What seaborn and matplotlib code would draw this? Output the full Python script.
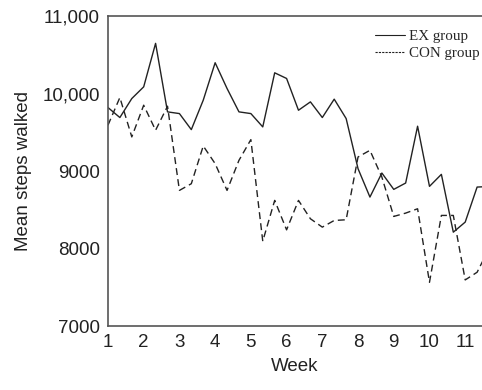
import numpy as np
import pandas as pd
import matplotlib
matplotlib.use("Agg")
import matplotlib.pyplot as plt
from matplotlib.lines import Line2D
import seaborn as sns

sns.set_style("white")
plt.rcParams['font.family'] = ['Liberation Sans', 'DejaVu Sans']

# measurements every third of a week
week = [1.0, 1.333, 1.667, 2.0, 2.333, 2.667, 3.0, 3.333, 3.667, 4.0, 4.333,
        4.667, 5.0, 5.333, 5.667, 6.0, 6.333, 6.667, 7.0, 7.333, 7.667, 8.0,
        8.333, 8.667, 9.0, 9.333, 9.667, 10.0, 10.333, 10.667, 11.0, 11.333,
        11.667]
ex_steps = [9819, 9690, 9935, 10086, 10647, 9763, 9741, 9534, 9914, 10397,
            10065, 9763, 9741, 9569, 10267, 10194, 9784, 9892, 9690, 9927,
            9677, 9030, 8664, 8974, 8763, 8845, 9578, 8802, 8957, 8211, 8341,
            8793, 8800]
con_steps = [9591, 9948, 9440, 9849, 9526, 9836, 8750, 8836, 9323, 9095,
             8750, 9138, 9405, 8095, 8621, 8241, 8621, 8384, 8276, 8362,
             8371, 9181, 9267, 8922, 8414, 8457, 8513, 7565, 8427, 8427,
             7595, 7694, 8000]
groups = ['EX group', 'CON group']
x_ticks = list(range(1, 12))
y_ticks = [7000, 8000, 9000, 10000, 11000]
y_labels = ['7000', '8000', '9000', '10,000', '11,000']

df = pd.DataFrame({
    'week': week * 2,
    'steps': ex_steps + con_steps,
    'group': [groups[0]] * len(week) + [groups[1]] * len(week),
})

fig = plt.figure(figsize=(4.82, 3.9), dpi=100)
ax = fig.add_axes([0.224, 0.164, 0.776, 0.795])

sns.lineplot(data=df, x='week', y='steps', hue='group', style='group',
             palette=['#222222', '#222222'],
             dashes={'EX group': '', 'CON group': (5, 3)},
             linewidth=1.0, ax=ax, legend=False)

ax.set_xlim(1, 11.47)
ax.set_ylim(7000, 11000)
ax.set_xticks(x_ticks)
ax.set_yticks(y_ticks)
ax.set_yticklabels(y_labels)
ax.tick_params(direction='out', length=3, width=0.8, color='#555555',
               labelsize=13.5, labelcolor='#222222', pad=3)
for s in ['left', 'bottom', 'top']:
    ax.spines[s].set_color('#555555')
    ax.spines[s].set_linewidth(1.2)
ax.spines['right'].set_visible(False)

ax.set_xlabel('Week', fontsize=13.5, color='#222222', labelpad=5)
ax.set_ylabel('Mean steps walked', fontsize=13.5, color='#222222', labelpad=7)

handles = [Line2D([], [], color='#222222', lw=0.8),
           Line2D([], [], color='#222222', lw=0.8, ls=(0, (2, 1)))]
leg = ax.legend(handles, groups, loc='upper right', frameon=False,
                prop={'family': 'Liberation Serif', 'size': 10.8},
                handlelength=2.0, handletextpad=0.25, labelspacing=0.25,
                borderaxespad=0.0, bbox_to_anchor=(1.01, 0.975))

fig.savefig('out.png', dpi=100)
